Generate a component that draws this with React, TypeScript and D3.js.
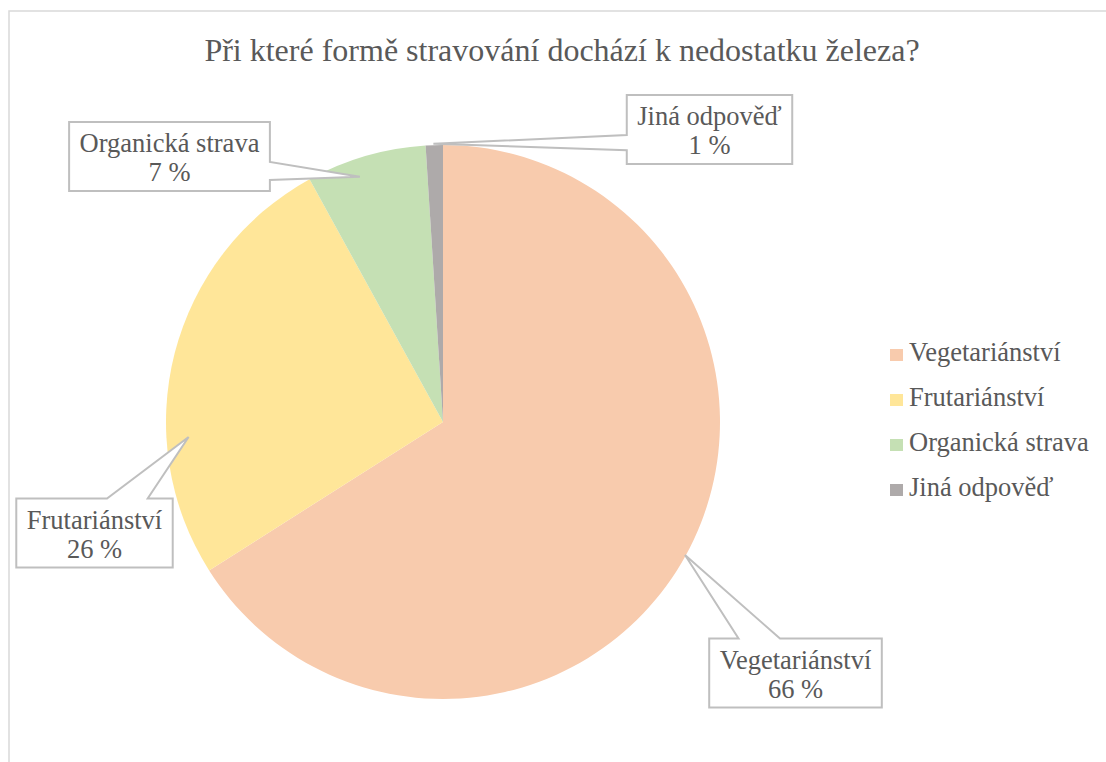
import React, { useEffect, useRef } from 'react';
import * as d3 from 'd3';

const categories = ['Vegetariánství', 'Frutariánství', 'Organická strava', 'Jiná odpověď'];
const shares = [66, 26, 7, 1];
const colors = ['#F8CBAD', '#FFE699', '#C5E0B4', '#AEAAAA'];
const title = 'Při které formě stravování dochází k nedostatku železa?';

// callout placement: box centre, side the pointer leaves from, base span along that side,
// and where the tip sits inside the slice (fraction of the slice angle, fraction of radius)
const callouts = [
  { cx: 795.5, cy: 673, side: 'top', b0: 0.17, b1: 0.41, at: 0.5, rr: 0.997 },
  { cx: 94.5, cy: 533, side: 'top', b0: 0.58, b1: 0.84, at: 0.31, rr: 0.92 },
  { cx: 169.5, cy: 156.5, side: 'right', b0: 0.58, b1: 0.84, at: 0.4, rr: 0.935 },
  { cx: 709.5, cy: 129.5, side: 'left', b0: 0.58, b1: 0.8, at: 0.45, rr: 1.005 },
];

const W = 1106;
const H = 762;
const FONT = 'Liberation Serif';
const TEXT = '#595959';
const LABEL_SIZE = 26.5;

const App = () => {
  const ref = useRef<SVGSVGElement>(null);

  useEffect(() => {
    const svg = d3.select(ref.current);
    svg.selectAll('*').remove();

    // chart frame, cut off on the right and bottom like the original
    svg.append('rect')
      .attr('x', 9).attr('y', 11)
      .attr('width', W + 20).attr('height', H + 20)
      .attr('fill', '#fff')
      .attr('stroke', '#d9d9d9')
      .attr('stroke-width', 1.5);

    svg.append('text')
      .attr('x', 562).attr('y', 61)
      .attr('text-anchor', 'middle')
      .style('font-family', FONT)
      .attr('font-size', 32)
      .attr('fill', TEXT)
      .text(title);

    const cx = 443, cy = 422, r = 277;
    const pie = d3.pie<number>().sort(null).value(d => d);
    const arcs = pie(shares);
    const arc = d3.arc<d3.PieArcDatum<number>>().innerRadius(0).outerRadius(r);

    const g = svg.append('g').attr('transform', `translate(${cx},${cy})`);
    g.selectAll('path')
      .data(arcs)
      .enter()
      .append('path')
      .attr('d', arc)
      .attr('fill', (d, i) => colors[i]);

    // callouts
    arcs.forEach((a, i) => {
      const c = callouts[i];
      const ang = a.startAngle + (a.endAngle - a.startAngle) * c.at;
      const tx = cx + Math.sin(ang) * r * c.rr;
      const ty = cy - Math.cos(ang) * r * c.rr;

      const grp = svg.append('g');
      const path = grp.append('path');
      const t1 = grp.append('text')
        .attr('text-anchor', 'middle')
        .style('font-family', FONT)
        .attr('font-size', LABEL_SIZE)
        .attr('fill', TEXT)
        .text(categories[i]);
      const w = (t1.node() as SVGTextElement).getComputedTextLength() + 21;
      const h = 69;
      const x0 = c.cx - w / 2, x1 = c.cx + w / 2;
      const y0 = c.cy - h / 2, y1 = c.cy + h / 2;
      t1.attr('x', c.cx).attr('y', y0 + 30);
      grp.append('text')
        .attr('x', c.cx).attr('y', y0 + 59)
        .attr('text-anchor', 'middle')
        .style('font-family', FONT)
        .attr('font-size', LABEL_SIZE)
        .attr('fill', TEXT)
        .text(`${shares[i]} %`);

      let pts: [number, number][];
      if (c.side === 'top') {
        const bx0 = x0 + w * c.b0, bx1 = x0 + w * c.b1;
        pts = [[x0, y0], [bx0, y0], [tx, ty], [bx1, y0], [x1, y0], [x1, y1], [x0, y1]];
      } else if (c.side === 'right') {
        const by0 = y0 + h * c.b0, by1 = y0 + h * c.b1;
        pts = [[x0, y0], [x1, y0], [x1, by0], [tx, ty], [x1, by1], [x1, y1], [x0, y1]];
      } else {
        const by0 = y0 + h * c.b0, by1 = y0 + h * c.b1;
        pts = [[x0, y0], [x1, y0], [x1, y1], [x0, y1], [x0, by1], [tx, ty], [x0, by0]];
      }
      path.attr('d', d3.line()(pts) + 'Z')
        .attr('fill', '#fff')
        .attr('stroke', '#bfbfbf')
        .attr('stroke-width', 2);
    });

    // legend
    const legend = svg.append('g');
    categories.forEach((name, i) => {
      const y = 361 + i * 45;
      legend.append('rect')
        .attr('x', 890).attr('y', y - 12)
        .attr('width', 13).attr('height', 12)
        .attr('fill', colors[i]);
      legend.append('text')
        .attr('x', 909).attr('y', y)
        .style('font-family', FONT)
        .attr('font-size', LABEL_SIZE)
        .attr('fill', TEXT)
        .text(name);
    });
  }, []);

  return (
    <svg ref={ref} width={W} height={H}
      style={{ position: 'absolute', left: 0, top: 0, background: '#fff' }} />
  );
};

export default App;
